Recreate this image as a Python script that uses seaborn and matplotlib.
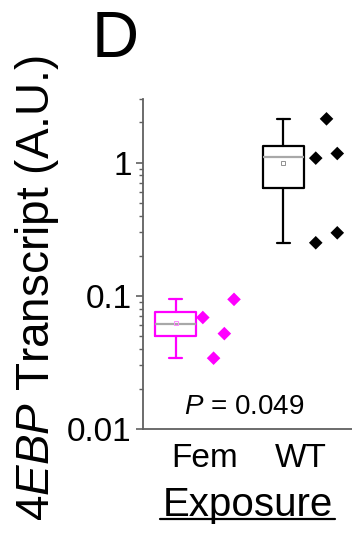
import numpy as np
import pandas as pd
import matplotlib
matplotlib.use("Agg")
import matplotlib.pyplot as plt
import seaborn as sns
from matplotlib.ticker import FixedLocator, FixedFormatter, LogLocator, NullFormatter
from matplotlib.lines import Line2D

# values
groups = ["Fem", "WT"]
fem_points = [0.0687, 0.034, 0.052, 0.094]
wt_points = [1.08, 0.25, 2.13, 1.17, 0.297]

# box summaries (whisker low, q1, median, q3, whisker high, mean)
box_low = [0.034, 0.25]
box_q1 = [0.050, 0.64]
box_med = [0.0612, 1.10]
box_q3 = [0.0752, 1.34]
box_high = [0.094, 2.13]
box_mean = [0.0626, 0.99]

ytick_vals = [0.01, 0.1, 1]
ytick_labels = ["0.01", "0.1", "1"]

# layout
fem_dx = [0.25, 0.35, 0.45, 0.54]
wt_dx = [0.30, 0.30, 0.40, 0.50, 0.50]
label_dx = [0.27, 0.16]
colors = {"Fem": "#ff00ff", "WT": "black"}
mean_colors = {"Fem": "#ff88ff", "WT": "#909090"}

sns.set_style("ticks")
plt.rcParams["font.family"] = ["Liberation Sans", "DejaVu Sans"]
plt.rcParams["mathtext.fontset"] = "custom"
plt.rcParams["mathtext.rm"] = "Liberation Sans"
plt.rcParams["mathtext.it"] = "Liberation Sans:italic"
plt.rcParams["text.color"] = "black"
plt.rcParams["axes.labelcolor"] = "black"

fig = plt.figure(figsize=(3.52, 5.4), dpi=100)
ax = fig.add_axes([0.406, 0.2056, 0.594, 0.611])

for i, g in enumerate(groups):
    c = colors[g]
    stats = [dict(whislo=box_low[i], q1=box_q1[i], med=box_med[i], q3=box_q3[i],
                  whishi=box_high[i], mean=box_mean[i], fliers=[])]
    ax.bxp(stats, positions=[i], widths=0.38, capwidths=0.12, showmeans=True,
           boxprops=dict(color=c, lw=1.6),
           whiskerprops=dict(color=c, lw=1.6),
           capprops=dict(color=c, lw=1.6),
           medianprops=dict(color="#a8a8a8", lw=1.6),
           meanprops=dict(marker="s", markersize=3.5, markerfacecolor="none",
                          markeredgecolor=mean_colors[g], markeredgewidth=0.7))

df = pd.DataFrame({
    "x": [0 + d for d in fem_dx] + [1 + d for d in wt_dx],
    "y": fem_points + wt_points,
    "g": ["Fem"] * len(fem_points) + ["WT"] * len(wt_points),
})
sns.scatterplot(data=df, x="x", y="y", hue="g", palette=colors, marker="D",
                s=48, edgecolor="none", legend=False, ax=ax)

ax.set_yscale("log")
ax.set_ylim(0.01, 3)
ax.set_xlim(-0.307, 1.637)
ax.yaxis.set_major_locator(FixedLocator(ytick_vals))
ax.yaxis.set_major_formatter(FixedFormatter(ytick_labels))
ax.yaxis.set_minor_locator(LogLocator(base=10, subs=np.arange(2, 10)))
ax.yaxis.set_minor_formatter(NullFormatter())
ax.tick_params(axis="y", which="major", direction="out", length=5, width=1.2,
               color="#606060", labelcolor="black", labelsize=24, pad=3)
ax.tick_params(axis="y", which="minor", direction="out", length=3, width=1.0,
               color="#606060")
ax.set_xticks([i + d for i, d in enumerate(label_dx)])
ax.set_xticklabels(groups)
ax.tick_params(axis="x", length=0, labelsize=24, labelcolor="black", pad=10)

for s in ["top", "right"]:
    ax.spines[s].set_visible(False)
for s in ["left", "bottom"]:
    ax.spines[s].set_color("#606060")
    ax.spines[s].set_linewidth(1.3)

ax.set_ylabel("")
ax.set_xlabel("Exposure", fontsize=29, labelpad=9)

ax.text(0.483, 0.045, r"$\mathit{P}$ = 0.049", transform=ax.transAxes,
        ha="center", va="baseline", fontsize=20)

fig.text(37 / 352, 0.467, r"$\mathit{4EBP}$ Transcript (A.U.)", rotation=90,
         ha="center", va="center", fontsize=33)
fig.text(92 / 352, 1 - 10 / 540, "D", ha="left", va="top", fontsize=47)

# underline the x label, just below its baseline
fig.canvas.draw()
bb = ax.xaxis.label.get_window_extent().transformed(fig.transFigure.inverted())
uy = bb.y0 + 5 / 540
fig.add_artist(Line2D([bb.x0 - 0.008, bb.x1 + 0.008], [uy, uy], color="black",
                      lw=1.6, transform=fig.transFigure))

fig.savefig("out.png", dpi=100)
